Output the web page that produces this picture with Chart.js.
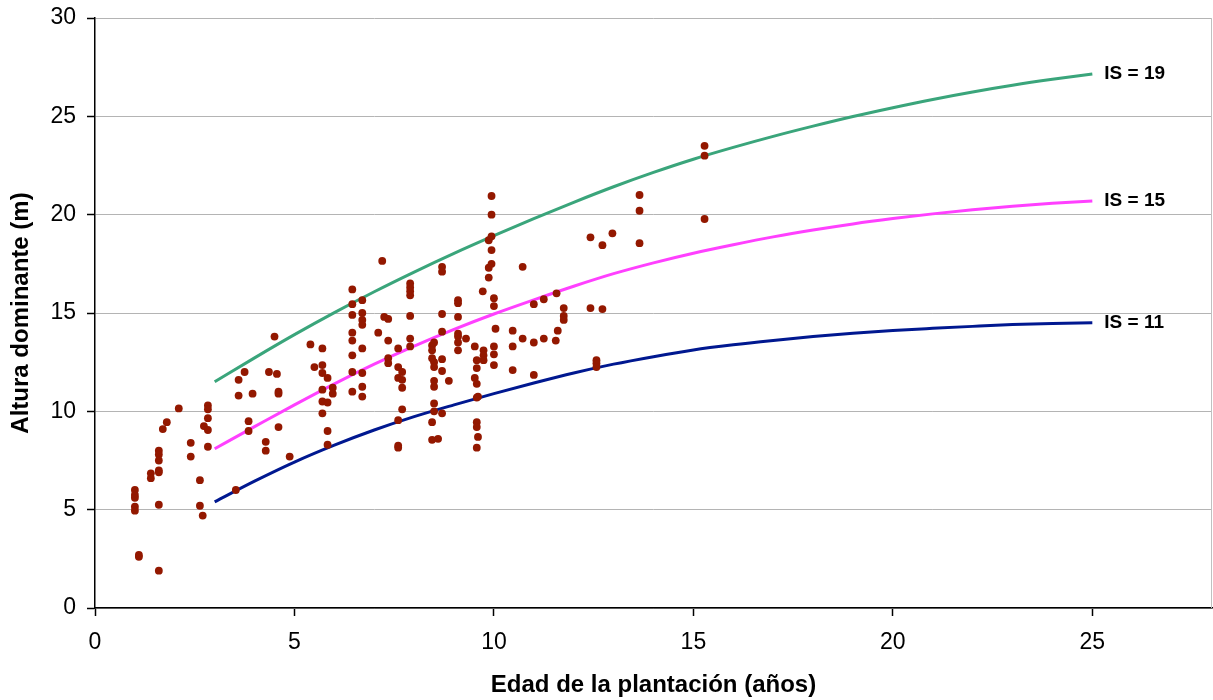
<!DOCTYPE html>
<html>
<head>
<meta charset="utf-8">
<title>Altura dominante</title>
<script src="https://cdn.jsdelivr.net/npm/chart.js@4"></script>
<style>
  html, body { margin: 0; padding: 0; background: #fff; }
  #wrap { width: 1213px; height: 700px; }
</style>
</head>
<body>
<div id="wrap"><canvas id="chart"></canvas></div>
<script>
// parcelas medidas: edad (años) y altura dominante (m)
const edadParcelas = [
  1.0, 1.0, 1.0, 1.0, 1.0,
  1.1, 1.1,
  1.4, 1.4,
  1.6, 1.6, 1.6, 1.6, 1.6, 1.6, 1.6,
  1.7, 1.8, 2.1,
  2.4, 2.4,
  2.63, 2.63, 2.7, 2.73,
  2.83, 2.83, 2.83, 2.83, 2.83,
  3.53, 3.6, 3.6, 3.75, 3.85, 3.85, 3.95,
  4.28, 4.28, 4.36, 4.5, 4.56, 4.6, 4.6, 4.6, 4.88,
  5.4, 5.5,
  5.7, 5.7, 5.7, 5.7, 5.7, 5.7,
  5.83, 5.83, 5.83, 5.83,
  5.96, 5.96,
  6.45, 6.45, 6.45, 6.45, 6.45, 6.45, 6.45, 6.45,
  6.7, 6.7, 6.7, 6.7, 6.7, 6.7, 6.7, 6.7,
  7.1, 7.2, 7.25,
  7.35, 7.35, 7.35, 7.35,
  7.6, 7.6, 7.6, 7.6, 7.6, 7.6,
  7.7, 7.7, 7.7, 7.7,
  7.9, 7.9, 7.9, 7.9, 7.9, 7.9, 7.9,
  8.45, 8.45, 8.45, 8.45, 8.45,
  8.5, 8.5, 8.5, 8.5, 8.5, 8.5, 8.5,
  8.6,
  8.7, 8.7, 8.7, 8.7, 8.7, 8.7, 8.7,
  8.87,
  9.1, 9.1, 9.1, 9.1, 9.1, 9.1, 9.1,
  9.3, 9.52, 9.52,
  9.57, 9.57, 9.57, 9.57, 9.57, 9.57, 9.57,
  9.6, 9.6, 9.72,
  9.74, 9.74, 9.74,
  9.87, 9.87, 9.87,
  9.94, 9.94, 9.94, 9.94, 9.94,
  10.0, 10.0, 10.0, 10.0, 10.0,
  10.04,
  10.47, 10.47, 10.47,
  10.72, 10.72,
  11.0, 11.0, 11.0,
  11.25, 11.25,
  11.57, 11.6, 11.55,
  11.75, 11.75, 11.75,
  12.42, 12.42,
  12.57, 12.57, 12.57,
  12.72, 12.72, 12.97,
  13.65, 13.65, 13.65,
  15.28, 15.28, 15.28
];
const alturaParcelas = [
  6.0, 5.75, 5.6, 5.15, 4.95,
  2.7, 2.6,
  6.85, 6.6,
  1.9, 5.25, 8.0, 7.8, 7.5, 7.0, 6.9,
  9.1, 9.45, 10.15,
  8.4, 7.7,
  6.5, 5.2, 4.7, 9.25,
  10.3, 10.1, 9.65, 9.05, 8.2,
  6.0, 11.6, 10.8, 12.0, 9.5, 9.0, 10.9,
  8.45, 8.0, 12.0, 13.8, 11.9, 11.0, 10.9, 9.2, 7.7,
  13.4, 12.25,
  13.2, 12.35, 11.95, 11.1, 10.5, 9.9,
  11.7, 10.45, 9.0, 8.3,
  11.2, 10.9,
  16.2, 15.45, 14.9, 14.0, 13.6, 12.85, 12.0, 11.0,
  15.65, 15.0, 14.65, 14.4, 13.2, 11.95, 11.25, 10.75,
  14.0, 17.65, 14.8,
  14.7, 13.6, 12.7, 12.45,
  13.2, 12.25, 11.7, 9.55, 8.25, 8.15,
  12.0, 11.6, 11.2, 10.1,
  16.5, 16.3, 16.1, 15.9, 14.85, 13.7, 13.3,
  13.35, 13.1, 12.7, 9.45, 8.55,
  13.5, 12.5, 12.25, 11.55, 11.25, 10.4, 10.0,
  8.6,
  17.35, 17.1, 14.95, 14.05, 12.65, 12.05, 9.9,
  11.55,
  15.65, 15.5, 14.8, 13.95, 13.8, 13.5, 13.1,
  13.7, 13.3, 11.7,
  12.6, 12.2, 11.4, 10.7, 9.45, 9.2, 8.15,
  10.75, 8.7, 16.1,
  13.1, 12.85, 12.6,
  18.7, 17.3, 16.8,
  20.95, 20.0, 18.9, 18.2, 17.5,
  15.75, 15.35, 13.3, 12.9, 12.35,
  14.2,
  14.1, 13.3, 12.1,
  17.35, 13.7,
  15.45, 13.5, 11.85,
  15.7, 13.7,
  16.0, 14.1, 13.6,
  15.25, 14.85, 14.65,
  18.85, 15.25,
  12.6, 12.45, 12.25,
  18.45, 15.2, 19.05,
  21.0, 20.2, 18.55,
  23.5, 23.0, 19.78
];

// curvas de índice de sitio
const edadCurva = [3, 4, 5, 6, 7, 8, 9, 10, 11, 12, 13, 14, 15, 16, 17, 18, 19, 20, 21, 22, 23, 24, 25];
const curvaIS19 = [11.5, 12.72, 13.9, 15.02, 16.08, 17.08, 18.03, 18.93, 19.8, 20.63, 21.42, 22.15, 22.82, 23.42, 23.98, 24.5, 24.99, 25.44, 25.86, 26.24, 26.58, 26.88, 27.15];
const curvaIS15 = [8.1, 9.22, 10.33, 11.4, 12.4, 13.32, 14.17, 14.95, 15.67, 16.36, 17.0, 17.55, 18.04, 18.47, 18.87, 19.22, 19.53, 19.8, 20.04, 20.25, 20.43, 20.58, 20.7];
const curvaIS11 = [5.4, 6.45, 7.42, 8.28, 9.05, 9.73, 10.33, 10.9, 11.44, 11.95, 12.4, 12.78, 13.12, 13.38, 13.6, 13.8, 13.97, 14.11, 14.22, 14.32, 14.41, 14.47, 14.5];

const xTicks = [0, 5, 10, 15, 20, 25];

const FONT = "'Liberation Sans', Arial, sans-serif";

const toPoints = (xs, ys) => xs.map((x, i) => ({ x: x, y: ys[i] }));

const curva = (label, values, color) => ({
  label: label,
  data: toPoints(edadCurva, values),
  showLine: true,
  borderColor: color,
  backgroundColor: color,
  borderWidth: 3,
  pointRadius: 0,
  cubicInterpolationMode: 'monotone',
  fill: false
});

// sin margen extra alrededor del area de trazado
const sinPadding = scale => {
  scale.paddingTop = 0;
  scale.paddingBottom = 0;
  scale.paddingLeft = 0;
  scale.paddingRight = 0;
};

// escribe "IS = xx" al final de cada curva y el borde derecho del area
const etiquetasCurvas = {
  id: 'etiquetasCurvas',
  afterDatasetsDraw(chart) {
    const ctx = chart.ctx;
    const area = chart.chartArea;
    ctx.save();
    ctx.strokeStyle = '#c0c0c0';
    ctx.lineWidth = 1;
    ctx.beginPath();
    ctx.moveTo(area.right - 0.5, area.top);
    ctx.lineTo(area.right - 0.5, area.bottom);
    ctx.stroke();

    ctx.font = 'bold 19px ' + FONT;
    ctx.fillStyle = '#000';
    ctx.textAlign = 'left';
    ctx.textBaseline = 'middle';
    chart.data.datasets.forEach((ds, i) => {
      if (!ds.showLine) return;
      const meta = chart.getDatasetMeta(i);
      const last = meta.data[meta.data.length - 1];
      ctx.fillText(ds.label, last.x + 12, last.y);
    });
    ctx.restore();
  }
};

const ctx = document.getElementById('chart').getContext('2d');
new Chart(ctx, {
  type: 'scatter',
  data: {
    datasets: [
      {
        label: 'Parcelas',
        data: toPoints(edadParcelas, alturaParcelas),
        backgroundColor: '#931800',
        borderColor: '#931800',
        borderWidth: 0,
        pointRadius: 3.9,
        showLine: false
      },
      curva('IS = 19', curvaIS19, '#3aa57b'),
      curva('IS = 15', curvaIS15, '#ff40ff'),
      curva('IS = 11', curvaIS11, '#001890')
    ]
  },
  options: {
    responsive: true,
    maintainAspectRatio: false,
    animation: false,
    layout: {
      autoPadding: false,
      padding: { top: 18, right: 1, left: 0, bottom: 0 }
    },
    plugins: {
      legend: { display: false },
      tooltip: { enabled: false }
    },
    scales: {
      x: {
        type: 'linear',
        min: 0,
        max: 28,
        afterBuildTicks: scale => {
          scale.ticks = xTicks.map(v => ({ value: v }));
        },
        afterFit: scale => {
          scale.height = 92;
          sinPadding(scale);
        },
        grid: {
          drawOnChartArea: false,
          drawTicks: true,
          tickLength: 8,
          tickColor: '#000',
          tickWidth: 1.5
        },
        border: { color: '#000', width: 1.5 },
        ticks: {
          padding: 13,
          color: '#000',
          font: { family: FONT, size: 23 }
        },
        title: {
          display: true,
          text: 'Edad de la plantación (años)',
          color: '#000',
          font: { family: FONT, size: 24, weight: 'bold' },
          padding: { top: 0, bottom: 0 }
        }
      },
      y: {
        min: 0,
        max: 30,
        ticks: {
          stepSize: 5,
          padding: 11,
          color: '#000',
          font: { family: FONT, size: 23 }
        },
        afterFit: scale => {
          scale.width = 95;
          sinPadding(scale);
        },
        grid: {
          color: '#b4b4b4',
          lineWidth: 1,
          drawTicks: true,
          tickLength: 8,
          tickColor: '#000',
          tickWidth: 1.5
        },
        border: { color: '#000', width: 1.5 },
        title: {
          display: true,
          text: 'Altura dominante (m)',
          color: '#000',
          font: { family: FONT, size: 24, weight: 'bold' },
          padding: { top: 7, bottom: 0 }
        }
      }
    }
  },
  plugins: [etiquetasCurvas]
});
</script>
</body>
</html>
